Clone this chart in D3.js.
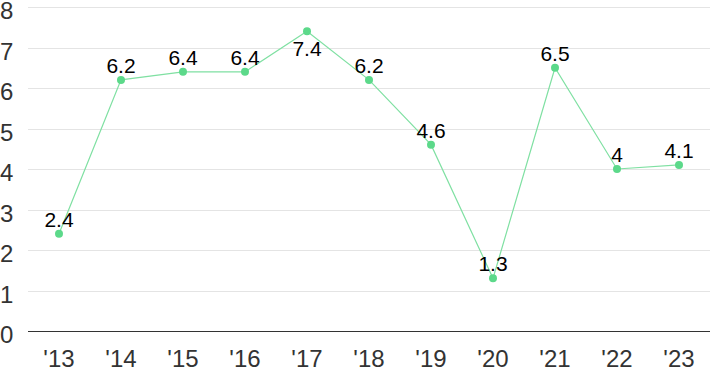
<!DOCTYPE html>
<html>
<head>
<meta charset="utf-8">
<script src="https://cdn.jsdelivr.net/npm/d3@7"></script>
<style>
  body { margin: 0; background: #fff; }
  text { font-family: "Liberation Sans", Arial, sans-serif; }
</style>
</head>
<body>
<svg width="710" height="371"></svg>
<script>
// data
var years = ["'13", "'14", "'15", "'16", "'17", "'18", "'19", "'20", "'21", "'22", "'23"];
var values = [2.4, 6.2, 6.4, 6.4, 7.4, 6.2, 4.6, 1.3, 6.5, 4, 4.1];
var yTicks = [0, 1, 2, 3, 4, 5, 6, 7, 8];

var svg = d3.select("svg");
var marge = {top: 7, right: 0, bottom: 40, left: 28};
var width = 710, height = 371;

var x = d3.scaleBand()
    .domain(years)
    .range([marge.left, width - marge.right]);
var y = d3.scaleLinear()
    .domain([0, 8])
    .range([height - marge.bottom, marge.top]);

function cx(d){ return x(d.year) + x.bandwidth() / 2; }

// 网格线
svg.append("g")
    .selectAll("line")
    .data(yTicks.slice(1))
    .enter()
    .append("line")
    .attr("x1", marge.left)
    .attr("x2", width)
    .attr("y1", function(d){ return Math.round(y(d)) + 0.5; })
    .attr("y2", function(d){ return Math.round(y(d)) + 0.5; })
    .attr("stroke", "#e4e4e4")
    .attr("stroke-width", 1);

// baseline
svg.append("line")
    .attr("x1", marge.left)
    .attr("x2", width)
    .attr("y1", Math.round(y(0)) + 0.5)
    .attr("y2", Math.round(y(0)) + 0.5)
    .attr("stroke", "#333")
    .attr("stroke-width", 1.2);

// y labels
svg.append("g")
    .selectAll("text")
    .data(yTicks)
    .enter()
    .append("text")
    .attr("x", 0)
    .attr("y", function(d){ return y(d) + 12; })
    .attr("font-size", 24)
    .attr("fill", "#333")
    .text(function(d){ return d; });

// x labels
svg.append("g")
    .selectAll("text")
    .data(years)
    .enter()
    .append("text")
    .attr("x", function(d){ return x(d) + x.bandwidth() / 2; })
    .attr("y", height - 4)
    .attr("text-anchor", "middle")
    .attr("font-size", 24)
    .attr("fill", "#333")
    .text(function(d){ return d; });

var pts = years.map(function(d, i){ return {year: d, value: values[i]}; });

var line = d3.line()
    .x(cx)
    .y(function(d){ return y(d.value); });

svg.append("path")
    .datum(pts)
    .attr("d", line)
    .attr("fill", "none")
    .attr("stroke", "#7fe0a2")
    .attr("stroke-width", 1.2);

svg.append("g")
    .selectAll("circle")
    .data(pts)
    .enter()
    .append("circle")
    .attr("cx", cx)
    .attr("cy", function(d){ return y(d.value); })
    .attr("r", 4)
    .attr("fill", "#5cd98a");

// value labels, the peak one goes below
var maxV = d3.max(values);
svg.append("g")
    .selectAll("text")
    .data(pts)
    .enter()
    .append("text")
    .attr("x", cx)
    .attr("y", function(d){ return d.value === maxV ? y(d.value) + 25 : y(d.value) - 7; })
    .attr("text-anchor", "middle")
    .attr("font-size", 21)
    .attr("fill", "#000")
    .text(function(d){ return d.value; });
</script>
</body>
</html>
